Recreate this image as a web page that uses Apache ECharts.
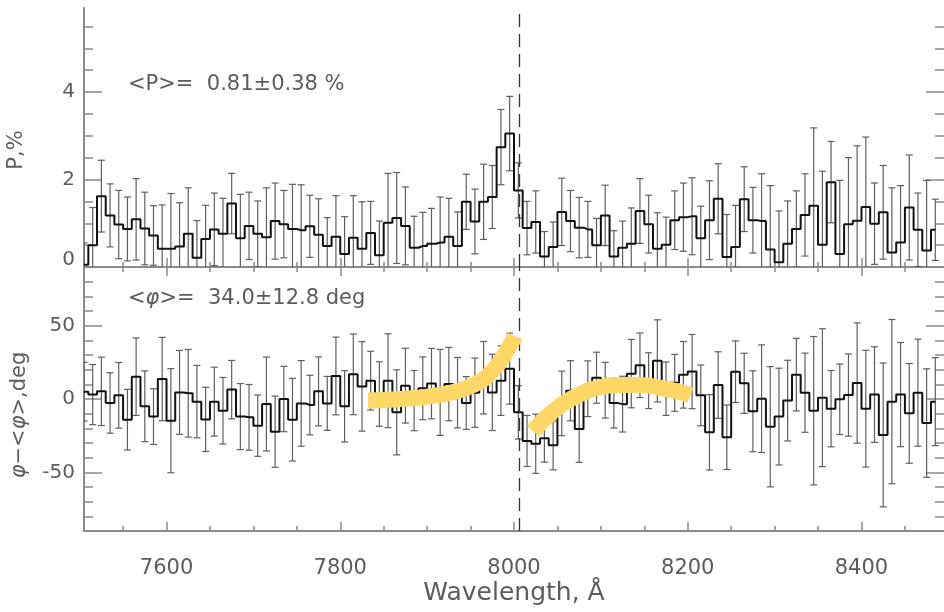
<!DOCTYPE html>
<html><head><meta charset="utf-8">
<script src="https://cdn.jsdelivr.net/npm/echarts@6/dist/echarts.min.js"></script>
<style>html,body{margin:0;padding:0;background:#fff}#c{width:944px;height:612px}</style>
</head><body><div id="c"></div>
<script>
// ---------------- data ----------------
const binCenters = [
7505,7515,7525,7535,7545,7555,7565,7575,7585,7595,
7605,7615,7625,7635,7645,7655,7665,7675,7685,7695,
7705,7715,7725,7735,7745,7755,7765,7775,7785,7795,
7805,7815,7825,7835,7845,7855,7865,7875,7885,7895,
7905,7915,7925,7935,7945,7955,7965,7975,7985,7995,
8005,8015,8025,8035,8045,8055,8065,8075,8085,8095,
8105,8115,8125,8135,8145,8155,8165,8175,8185,8195,
8205,8215,8225,8235,8245,8255,8265,8275,8285,8295,
8305,8315,8325,8335,8345,8355,8365,8375,8385,8395,
8405,8415,8425,8435,8445,8455,8465,8475,8485];
const polarization = [
0.05,0.50,1.62,1.18,0.97,0.87,1.09,0.88,0.72,0.42,
0.42,0.47,0.76,0.21,0.64,0.86,0.76,1.45,0.66,0.94,
0.76,0.68,1.05,0.98,0.87,0.84,0.93,0.74,0.48,0.69,
0.30,0.67,0.42,0.78,0.27,1.01,1.12,0.94,0.44,0.48,
0.53,0.56,0.69,0.48,1.49,1.04,1.49,1.60,2.74,3.05,
1.75,0.89,1.03,0.24,0.46,1.26,1.05,0.90,0.86,0.50,
1.18,0.24,0.44,0.53,1.28,0.98,0.42,0.51,1.07,1.14,
1.16,0.66,1.07,1.56,0.23,0.46,1.55,1.07,1.05,0.40,
0.11,0.53,0.87,1.19,1.40,0.51,1.94,0.30,0.98,1.06,
1.37,0.99,1.25,0.33,0.56,1.36,0.85,0.38,0.85];
const polarizationErr = [
0.50,0.86,0.82,0.72,0.78,0.73,0.93,0.83,0.68,1.00,
1.26,1.00,1.05,0.85,0.77,0.83,0.81,0.69,1.00,0.77,
0.75,1.13,0.87,0.77,1.02,1.04,0.71,0.82,0.65,0.94,
0.85,0.96,1.07,0.72,0.78,1.13,1.04,0.89,0.72,0.77,
0.81,1.04,0.88,0.78,0.63,0.74,0.86,0.72,0.86,0.85,
0.63,0.61,0.71,0.57,0.57,0.77,0.70,0.69,0.64,0.61,
0.69,0.59,0.61,0.82,0.74,0.66,0.82,0.63,0.67,0.78,
0.88,0.73,0.90,0.80,0.97,0.95,0.74,0.75,1.08,1.46,
1.17,0.98,0.87,0.94,1.78,1.68,0.93,1.68,1.52,1.71,
1.60,0.93,1.07,1.48,1.30,1.20,0.84,1.60,0.70];
const angleDev = [
5.0,3.0,5.2,-2.7,2.5,-14.1,15.2,-5.0,-12.0,13.6,
-14.8,4.5,3.9,-1.8,-13.9,-1.8,-8.0,6.4,-12.0,-12.5,
-18.2,-3.4,-22.3,0.0,-14.1,-3.0,-4.1,5.2,-3.0,15.7,
-5.0,16.8,8.6,12.5,3.4,12.5,-9.1,9.1,-1.1,7.3,
10.5,4.5,10.2,4.3,-2.7,4.3,14.5,4.5,12.5,20.7,
-9.1,-28.6,-30.5,-26.8,-31.6,-3.0,5.6,-20.5,7.0,14.5,
6.0,-2.8,-3.5,17.3,23.0,12.5,26.0,7.0,11.0,16.5,
18.7,2.5,-22.7,9.5,-26.1,18.6,10.7,-8.4,0.2,-18.9,
-12.0,-1.1,16.6,4.3,-8.0,0.9,-6.6,-0.2,2.7,10.9,
-6.6,3.0,-24.5,-1.8,3.0,-9.8,4.3,-16.4,-1.8];
const angleErr = [
20.0,20.5,23.3,20.6,22.4,20.7,26.4,24.1,19.0,28.4,
35.5,28.6,29.9,24.7,21.9,23.5,22.7,19.9,22.5,22.4,
20.9,32.0,24.3,22.3,28.2,29.2,20.3,23.5,18.4,26.5,
24.3,27.5,30.5,20.0,22.0,32.0,29.0,25.5,20.5,21.4,
24.0,29.3,25.0,24.0,18.0,23.6,24.7,26.0,23.7,24.2,
18.2,17.4,20.2,16.3,16.7,22.0,20.5,22.7,19.0,17.4,
19.0,17.0,19.0,23.3,22.0,19.0,28.0,18.2,19.4,22.7,
25.3,20.7,25.7,22.7,22.0,21.0,20.5,27.6,36.7,41.0,
33.0,27.5,24.7,27.0,50.6,47.0,26.0,24.0,28.0,41.0,
39.8,32.6,49.0,56.0,35.5,34.0,36.5,37.0,30.0];
const modelCurveBlue = [[7832,-1],[7870,0],[7905,2],[7935,5.5],[7958,11],[7975,19],[7990,31],[8001,43]];
const modelCurveRed  = [[8022,-22],[8040,-11],[8057,-3],[8075,3],[8095,7.5],[8120,9.5],[8145,9.5],[8170,7.5],[8190,5],[8203,2.5]];
const lineWavelength = 8006;
const xRange = [7505, 8495];
const pRange = [0, 5.92];
const angRange = [-90, 90];
const xMajorTicks = [7600,7800,8000,8200,8400];
const xMinorTicks = [7550,7650,7700,7750,7850,7900,7950,8050,8100,8150,8250,8300,8350,8450];
const pMajorTicks = [0,2,4];
const pMinorTicks = [0.5,1,1.5,2.5,3,3.5,4.5,5,5.5];
const angMajorTicks = [-50,0,50];
const angMinorTicks = [-80,-70,-60,-40,-30,-20,-10,10,20,30,40,60,70,80];
const meanPText = '<P>=  0.81±0.38 %';
const meanAngValue = '34.0±12.8 deg';

// ---------------- chart ----------------
const FONT = 'DejaVu Sans';
const TXT = '#5c5c5c';
const AX = '#8a8a8a';
const chart = echarts.init(document.getElementById('c'), null, {renderer: 'canvas'});

function xAxisDef(grid, pos, ticks, len, showLine, labels) {
  return {
    type: 'value', gridIndex: grid, position: pos, min: xRange[0], max: xRange[1],
    axisLine: {show: showLine, onZero: false, lineStyle: {color: AX, width: 2}},
    axisTick: {show: true, inside: true, length: len, customValues: ticks, lineStyle: {color: AX, width: 1.5}},
    axisLabel: labels ? {show: true, customValues: ticks, margin: 27, color: TXT, fontFamily: FONT, fontSize: 21,
      formatter: v => String(v)} : {show: false},
    splitLine: {show: false},
    name: labels ? 'Wavelength, Å' : '', nameLocation: 'middle', nameGap: 50,
    nameTextStyle: {color: TXT, fontFamily: FONT, fontSize: 25}
  };
}
function yAxisDef(grid, pos, range, ticks, len, showLine, labelFmt) {
  return {
    type: 'value', gridIndex: grid, position: pos, min: range[0], max: range[1],
    axisLine: {show: showLine, onZero: false, lineStyle: {color: AX, width: 2}},
    axisTick: {show: true, inside: true, length: len, customValues: ticks, lineStyle: {color: AX, width: 1.5}},
    axisLabel: labelFmt ? {show: true, customValues: ticks, margin: 9, color: TXT, fontFamily: FONT, fontSize: 20,
      formatter: labelFmt, rich: {z: {padding: [0,0,14,0], color: TXT, fontFamily: FONT, fontSize: 20}}} : {show: false},
    splitLine: {show: false}
  };
}

function errRender(params, api) {
  const x = api.value(0), y = api.value(1), e = api.value(2);
  const top = api.coord([x, y + e]);
  const bot = api.coord([x, y - e]);
  const hw = 3.5;
  const style = {stroke: '#5f5f5f', lineWidth: 1.2};
  return {type: 'group', children: [
    {type: 'line', shape: {x1: top[0], y1: top[1], x2: bot[0], y2: bot[1]}, style: style},
    {type: 'line', shape: {x1: top[0] - hw, y1: top[1], x2: top[0] + hw, y2: top[1]}, style: style},
    {type: 'line', shape: {x1: bot[0] - hw, y1: bot[1], x2: bot[0] + hw, y2: bot[1]}, style: style}
  ]};
}

const pStep = binCenters.map((c, i) => [c, polarization[i]]);
const pErrData = binCenters.map((c, i) => [c, polarization[i], polarizationErr[i]]);
const aStep = binCenters.map((c, i) => [c, angleDev[i]]);
const aErrData = binCenters.map((c, i) => [c, angleDev[i], angleErr[i]]);

const dashLine = {
  silent: true, symbol: ['none', 'none'], label: {show: false},
  lineStyle: {type: [13, 7], color: '#333', width: 1.3},
  data: [{xAxis: lineWavelength}]
};

const richTxt = {
  n: {fill: TXT, color: TXT, fontFamily: FONT, fontSize: 21},
  i: {fill: TXT, color: TXT, fontFamily: FONT, fontSize: 21, fontStyle: 'italic'}
};

const option = {
  animation: false,
  backgroundColor: '#fff',
  grid: [
    {left: 84, top: 8, width: 866, height: 259, containLabel: false},
    {left: 84, top: 267, width: 866, height: 264, containLabel: false}
  ],
  xAxis: [
    xAxisDef(0, 'bottom', xMajorTicks, 9, true, false),
    xAxisDef(0, 'bottom', xMinorTicks, 5, false, false),
    xAxisDef(1, 'top', xMajorTicks, 9, false, false),
    xAxisDef(1, 'top', xMinorTicks, 5, false, false),
    xAxisDef(1, 'bottom', xMajorTicks, 9, true, true),
    xAxisDef(1, 'bottom', xMinorTicks, 5, false, false)
  ],
  yAxis: [
    yAxisDef(0, 'left', pRange, pMajorTicks, 18, true, v => v === 0 ? '{z|0}' : String(v)),
    yAxisDef(0, 'left', pRange, pMinorTicks, 9, false, null),
    yAxisDef(0, 'right', pRange, pMajorTicks, 18, false, null),
    yAxisDef(0, 'right', pRange, pMinorTicks, 9, false, null),
    yAxisDef(1, 'left', angRange, angMajorTicks, 18, true, v => String(v)),
    yAxisDef(1, 'left', angRange, angMinorTicks, 9, false, null),
    yAxisDef(1, 'right', angRange, angMajorTicks, 18, false, null),
    yAxisDef(1, 'right', angRange, angMinorTicks, 9, false, null)
  ],
  series: [
    {type: 'custom', xAxisIndex: 0, yAxisIndex: 0, renderItem: errRender, data: pErrData,
      encode: {x: 0, y: 1}, clip: true, z: 2, silent: true},
    {type: 'line', xAxisIndex: 0, yAxisIndex: 0, data: pStep, step: 'middle', showSymbol: false, symbol: 'none',
      lineStyle: {color: '#111', width: 2}, z: 3, silent: true, markLine: dashLine},
    {type: 'custom', xAxisIndex: 4, yAxisIndex: 4, renderItem: errRender, data: aErrData,
      encode: {x: 0, y: 1}, clip: true, z: 2, silent: true},
    {type: 'line', xAxisIndex: 4, yAxisIndex: 4, data: aStep, step: 'middle', showSymbol: false, symbol: 'none',
      lineStyle: {color: '#111', width: 2}, z: 3, silent: true, markLine: dashLine},
    {type: 'line', xAxisIndex: 4, yAxisIndex: 4, data: modelCurveBlue, smooth: 0.5, showSymbol: false, symbol: 'none',
      lineStyle: {color: '#FED766', width: 16, cap: 'butt'}, z: 5, silent: true},
    {type: 'line', xAxisIndex: 4, yAxisIndex: 4, data: modelCurveRed, smooth: 0.5, showSymbol: false, symbol: 'none',
      lineStyle: {color: '#FED766', width: 16, cap: 'butt'}, z: 5, silent: true}
  ],
  graphic: [
    {type: 'text', left: 128, top: 74, silent: true,
      style: {text: meanPText, fill: TXT, font: '21px "DejaVu Sans"'}},
    {type: 'text', left: 128, top: 288, silent: true,
      style: {text: '{n|<}{i|φ}{n|>=  ' + meanAngValue + '}', rich: richTxt}},
    {type: 'text', x: 17, y: 150, rotation: Math.PI / 2, silent: true,
      style: {text: 'P,%', fill: TXT, font: '21px "DejaVu Sans"', align: 'center', verticalAlign: 'middle'}},
    {type: 'text', x: 20, y: 415, rotation: Math.PI / 2, silent: true,
      style: {text: '{i|φ}{n|−<}{i|φ}{n|>,deg}', align: 'center', verticalAlign: 'middle', rich: richTxt}}
  ]
};
chart.setOption(option);
</script>
</body></html>
